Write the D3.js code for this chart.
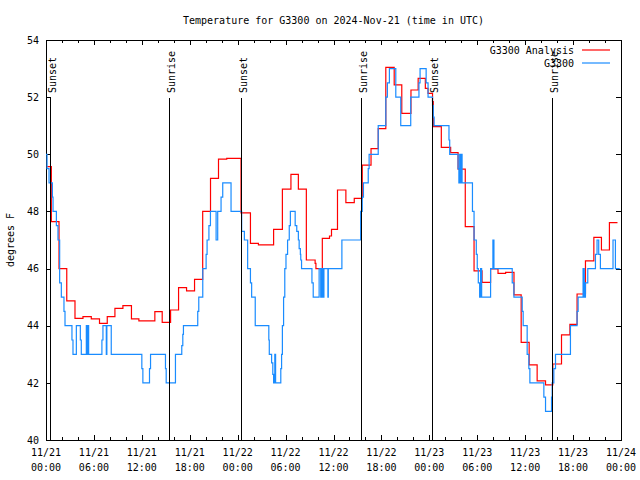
<!DOCTYPE html>
<html><head><meta charset="utf-8">
<script src="https://cdn.jsdelivr.net/npm/d3@7/dist/d3.min.js"></script>
<style>
body{margin:0;background:#fff;}
svg text{font-family:"DejaVu Sans Mono",monospace;font-size:10px;fill:#000;}
</style></head>
<body><svg id="c" width="640" height="480"></svg>
<script>
// ---- data (hours after 2024-11-21 00:00 UTC, temperature in degrees F) ----
const titleText = "Temperature for G3300 on 2024-Nov-21 (time in UTC)";
const yLabel = "degrees F";
const seriesNames = ["G3300 Analysis", "G3300"];
const yTicks = [40, 42, 44, 46, 48, 50, 52, 54];

const anaHours = [0.15,0.67,1.63,2.6,3.63,4.63,5.67,6.7,7.67,8.63,9.63,10.7,11.63,13.63,14.55,15.6,16.6,17.6,18.6,19.62,20.6,21.6,22.63,24.42,25.6,26.6,28.5,29.6,30.67,31.6,32.6,33.7,33.8,34.6,35.5,35.75,36.5,37.55,38.6,39.6,40.7,41.6,42.55,43.6,44.55,45.7,46.6,47.5,47.84,48.4,48.5,49.5,50.67,51.6,52.5,53.6,54.6,55.67,56.6,57.55,58.6,59.5,60.5,61.5,62.55,63.46,64.55,65.6,66.5,67.55,68.6,69.55,70.55,71.56];
const anaTemps = [49.57,47.64,46.0,44.87,44.26,44.32,44.24,44.08,44.32,44.61,44.70,44.24,44.17,44.49,44.12,44.55,45.33,45.22,45.62,48.0,49.16,49.83,49.86,47.95,46.88,46.83,47.37,48.78,49.30,48.78,46.30,46.18,46.0,47.06,47.14,47.37,48.75,48.31,48.46,49.62,50.2,50.9,53.04,52.43,51.43,52.25,52.66,52.31,52.13,51.84,50.97,50.24,50.06,49.48,47.47,45.92,45.52,45.99,45.83,45.87,45.08,43.42,42.63,42.07,41.93,42.66,43.68,44.05,45.11,46.27,47.09,46.65,47.61,47.61];

const obsHours = [0.0,0.13,0.38,0.8,0.88,1.3,1.5,1.71,1.92,2.25,2.38,3.25,3.38,3.8,4.3,4.42,5.05,5.18,5.25,5.34,7.0,7.13,7.55,7.62,8.17,12.0,12.13,12.96,13.09,14.96,15.05,16.21,17.0,17.13,17.21,19.0,19.13,19.63,20.05,20.17,20.4,20.59,21.3,21.5,21.92,22.13,23.17,24.5,24.84,25.25,25.6,25.75,26.2,27.9,27.96,28.25,28.4,28.5,28.65,28.75,29.4,29.5,29.6,29.75,29.9,30.05,30.25,30.46,30.6,31.2,31.4,31.6,31.7,31.85,31.9,32.0,33.3,33.46,34.2,34.4,34.45,34.55,34.6,34.75,34.8,35.3,35.35,37.05,39.4,39.6,39.75,40.35,40.46,41.6,42.55,42.75,43.0,43.8,44.42,45.67,46.7,46.84,47.6,47.84,48.4,48.5,48.6,50.46,50.55,51.6,51.7,51.8,51.9,52.0,52.1,53.4,53.6,53.88,54.0,54.13,54.3,54.42,54.55,55.67,55.96,56.09,58.38,58.59,59.63,59.75,60.25,60.46,60.59,62.34,62.55,63.3,63.38,63.59,63.8,65.67,66.5,66.63,67.25,67.4,67.55,67.84,68.8,69.0,69.21,69.42,71.0,71.3,71.84];
const obsTemps = [50.0,49.5,49.0,48.5,48.0,47.5,47.0,45.5,45.0,44.5,44.0,43.5,43.0,44.0,43.5,43.0,44.0,43.0,44.0,43.0,43.5,44.0,43.0,44.0,43.0,42.5,42.0,42.5,43.0,42.5,42.0,43.0,43.3,43.7,44.0,44.5,45.0,46.0,46.5,47.0,47.5,48.0,47.0,48.0,48.5,49.0,48.0,47.3,47.0,46.0,45.5,45.0,44.0,43.5,43.0,42.7,42.3,42.0,43.0,42.0,42.5,43.0,44.0,45.0,46.0,46.5,47.0,47.5,48.0,47.5,47.3,47.0,46.7,46.5,46.3,46.0,45.5,45.0,46.0,45.0,46.0,45.0,46.0,45.0,46.0,45.0,46.0,47.0,48.0,48.5,49.0,49.5,50.0,51.0,52.0,52.5,53.0,52.0,51.0,52.0,52.5,53.0,52.5,52.0,51.7,51.3,51.0,50.5,50.0,49.5,49.0,50.0,49.0,50.0,49.0,48.0,47.0,46.5,46.0,45.5,45.0,46.0,45.0,46.0,47.0,46.0,45.5,45.0,44.5,44.0,43.0,42.5,42.0,41.5,41.0,41.5,42.0,42.5,43.0,44.0,44.5,45.0,46.0,45.0,45.5,46.0,46.5,47.0,46.5,46.0,47.0,46.0,46.0];

const sunEventNames = ["Sunset","Sunrise","Sunset","Sunrise","Sunset","Sunrise"];
const sunEventHours = [0.55,15.38,24.42,39.42,48.38,63.38];

// ---- layout ----
const W = 640, H = 480;
const L = 46, R = 621, T = 40, B = 440;
const t0 = Date.UTC(2024, 10, 21);
const toDate = h => new Date(t0 + h * 3600e3);

const svg = d3.select("#c");
const x = d3.scaleUtc().domain([toDate(0), toDate(72)]).range([L, R]);
const y = d3.scaleLinear().domain([40, 54]).range([B, T]);

const majorTicks = d3.utcHour.every(6).range(toDate(0), toDate(72.01));
const minorTicks = d3.utcHour.every(2).range(toDate(0), toDate(72.01)).filter(d => d.getUTCHours() % 6 !== 0);

// bottom axis (inward ticks)
const gB = svg.append("g").attr("transform", `translate(0,${B})`);
gB.call(d3.axisBottom(x).tickValues(majorTicks).tickSizeInner(-5).tickSizeOuter(0).tickFormat(""));
gB.append("g").call(d3.axisBottom(x).tickValues(minorTicks).tickSizeInner(-3).tickSizeOuter(0).tickFormat(""));
// top axis
const gT = svg.append("g").attr("transform", `translate(0,${T})`);
gT.call(d3.axisTop(x).tickValues(majorTicks).tickSizeInner(-5).tickSizeOuter(0).tickFormat(""));
gT.append("g").call(d3.axisTop(x).tickValues(minorTicks).tickSizeInner(-3).tickSizeOuter(0).tickFormat(""));
// left axis
const gL = svg.append("g").attr("transform", `translate(${L},0)`);
gL.call(d3.axisLeft(y).tickValues(yTicks).tickSizeInner(-5).tickSizeOuter(0).tickPadding(7).tickFormat(d3.format("d")));
// right axis
const gR = svg.append("g").attr("transform", `translate(${R},0)`);
gR.call(d3.axisRight(y).tickValues(yTicks).tickSizeInner(-5).tickSizeOuter(0).tickFormat(""));

svg.selectAll(".domain").remove();
svg.selectAll(".tick line").attr("stroke", "#000").attr("shape-rendering", "crispEdges");
svg.selectAll(".tick text").attr("font-family", "DejaVu Sans Mono, monospace").attr("font-size", 10).attr("fill", "#000");

// two-line x tick labels
const fmt1 = d3.utcFormat("%m/%d"), fmt2 = d3.utcFormat("%H:%M");
const xl = svg.append("g");
xl.selectAll("text.l1").data(majorTicks).join("text")
  .attr("x", d => x(d)).attr("y", 456).attr("text-anchor", "middle").text(fmt1);
xl.selectAll("text.l2").data(majorTicks).join("text")
  .attr("x", d => x(d)).attr("y", 471).attr("text-anchor", "middle").text(fmt2);

// frame
svg.append("rect").attr("x", L + 0.5).attr("y", T + 0.5).attr("width", R - L).attr("height", B - T)
  .attr("fill", "none").attr("stroke", "#000").attr("stroke-width", 1).attr("shape-rendering", "crispEdges");

// series
const line = d3.line().curve(d3.curveStepAfter).x(d => x(toDate(d[0]))).y(d => y(d[1]));
const anaData = anaHours.map((h, i) => [h, anaTemps[i]]);
const obsData = obsHours.map((h, i) => [h, obsTemps[i]]);
const colors = ["#ff0000", "#1a8cff"];
svg.append("path").attr("d", line(anaData)).attr("fill", "none").attr("stroke", colors[0]).attr("stroke-width", 1.2);
svg.append("path").attr("d", line(obsData)).attr("fill", "none").attr("stroke", colors[1]).attr("stroke-width", 1.2);

// sunrise / sunset markers
const sg = svg.append("g");
sunEventHours.forEach((h, i) => {
  const xp = Math.round(x(toDate(h))) + 0.5;
  sg.append("line").attr("x1", xp).attr("x2", xp).attr("y1", 98).attr("y2", B)
    .attr("stroke", "#000").attr("stroke-width", 1);
  sg.append("text").attr("transform", `translate(${xp + 5},93) rotate(-90)`)
    .attr("text-anchor", "start").text(sunEventNames[i]);
});

// legend
const lg = svg.append("g");
seriesNames.forEach((n, i) => {
  const yy = 50 + i * 13;
  lg.append("text").attr("x", 574).attr("y", yy + 3.5).attr("text-anchor", "end").text(n);
  lg.append("line").attr("x1", 582).attr("x2", 610).attr("y1", yy).attr("y2", yy)
    .attr("stroke", colors[i]).attr("stroke-width", 1.2);
});

// title and y label
svg.append("text").attr("x", (L + R) / 2).attr("y", 24).attr("text-anchor", "middle").text(titleText);
svg.append("text").attr("transform", `translate(14,240) rotate(-90)`).attr("text-anchor", "middle").text(yLabel);
</script></body></html>
